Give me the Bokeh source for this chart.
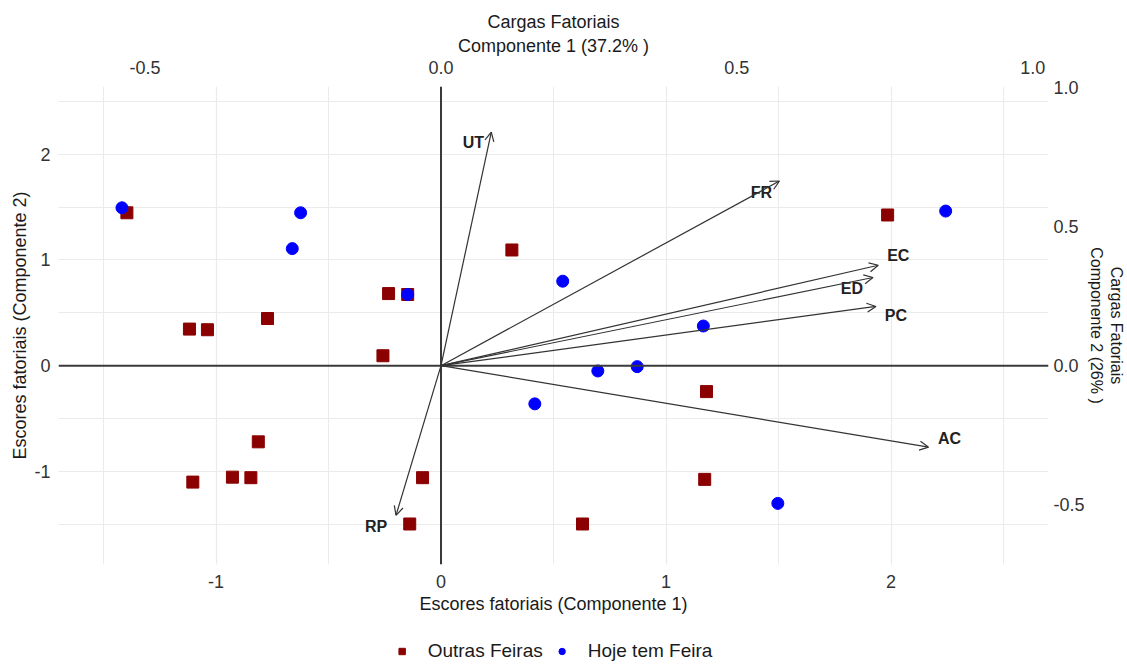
from bokeh.plotting import figure
from bokeh.layouts import column
from bokeh.models import (Range1d, LinearAxis, FixedTicker, NumeralTickFormatter, Span, Grid,
                          Arrow, OpenHead, ColumnDataSource, Legend, LegendItem)
from bokeh.embed import file_html
from bokeh.resources import INLINE
from bokeh.core.properties import value

# ---------------- data ----------------
outras_x = [-1.396, -1.118, -1.038, -0.771, -0.233, -0.148, -0.258, 0.315, -0.812,
            -1.103, -0.927, -0.845, -0.082, -0.139, 0.629, 1.180, 1.172, 1.985]
outras_y = [1.446, 0.346, 0.340, 0.446, 0.682, 0.673, 0.094, 1.094, -0.720,
            -1.101, -1.054, -1.059, -1.059, -1.497, -1.497, -0.245, -1.075, 1.425]

hoje_x = [-1.418, -0.624, -0.661, -0.148, 0.541, 1.166, 0.697, 0.872, 0.417, 2.243, 1.497]
hoje_y = [1.493, 1.446, 1.107, 0.673, 0.799, 0.375, -0.050, -0.009, -0.361, 1.462, -1.302]

var_names = ["UT", "FR", "EC", "ED", "PC", "AC", "RP"]
load_c1 = [0.085, 0.572, 0.739, 0.730, 0.735, 0.824, -0.076]
load_c2 = [0.840, 0.664, 0.361, 0.317, 0.213, -0.293, -0.538]

score_ticks = [-1, 0, 1, 2]
score_minor = [-1.5, -0.5, 0.5, 1.5, 2.5]
load_ticks = [-0.5, 0.0, 0.5, 1.0]

series_names = ["Outras Feiras", "Hoje tem Feira"]
x_title = "Escores fatoriais (Componente 1)"
y_title = "Escores fatoriais (Componente 2)"
top_title = "Cargas Fatoriais\nComponente 1 (37.2% )"
right_title = "Cargas Fatoriais\nComponente 2 (26% )"

# ---------------- layout / style ----------------
SCALE = 2.63          # scores per loading unit (secondary-axis ratio)
X_LIM = (-1.70, 2.70)
Y_LIM = (-1.88, 2.64)
label_dx = [-18, -18, 20, -21, 20, 21, -20]
label_dy = [10, 11, -10, 11, 9, -9, 11]
FONT = "Liberation Sans"
GRID = "#EBEBEB"
RED = "#8B0000"
BLUE = "#0000FF"

p = figure(width=1127, height=638,
           x_range=Range1d(*X_LIM), y_range=Range1d(*Y_LIM),
           x_axis_location=None, y_axis_location=None,
           output_backend="svg", toolbar_location=None,
           min_border_left=58, min_border_right=79,
           min_border_top=86, min_border_bottom=74)
p.outline_line_color = None
p.background_fill_color = "white"
p.extra_x_ranges = {"lx": Range1d(X_LIM[0] / SCALE, X_LIM[1] / SCALE)}
p.extra_y_ranges = {"ly": Range1d(Y_LIM[0] / SCALE, Y_LIM[1] / SCALE)}

score_ticker_x = FixedTicker(ticks=score_ticks, minor_ticks=score_minor)
score_ticker_y = FixedTicker(ticks=score_ticks, minor_ticks=score_minor)

bottom_axis = LinearAxis(axis_label=x_title, ticker=score_ticker_x,
                         formatter=NumeralTickFormatter(format="0"))
left_axis = LinearAxis(axis_label=y_title, ticker=score_ticker_y,
                       formatter=NumeralTickFormatter(format="0"))
top_axis = LinearAxis(x_range_name="lx", axis_label=top_title,
                      ticker=FixedTicker(ticks=load_ticks),
                      formatter=NumeralTickFormatter(format="0.0"))
right_axis = LinearAxis(y_range_name="ly", axis_label=right_title,
                        ticker=FixedTicker(ticks=load_ticks),
                        formatter=NumeralTickFormatter(format="0.0"))

for ax in [bottom_axis, left_axis, top_axis, right_axis]:
    ax.axis_line_color = None
    ax.major_tick_line_color = None
    ax.minor_tick_line_color = None
    ax.major_tick_out = 0
    ax.major_tick_in = 0
    ax.minor_tick_out = 0
    ax.minor_tick_in = 0
    ax.major_label_text_font = FONT
    ax.major_label_text_font_size = "18px"
    ax.major_label_text_color = "#333333"
    ax.axis_label_text_font = FONT
    ax.axis_label_text_font_size = "18px"
    ax.axis_label_text_font_style = "normal"
    ax.axis_label_text_color = "#1a1a1a"
    ax.axis_label_standoff = 1
bottom_axis.major_label_standoff = 10
bottom_axis.axis_label_standoff = 3
top_axis.major_label_standoff = 13
left_axis.major_label_standoff = 8
right_axis.major_label_standoff = 5
right_axis.axis_label_standoff = 0
right_axis.axis_label_text_font_size = "16px"
top_axis.axis_label_standoff = 2

p.add_layout(bottom_axis, "below")
p.add_layout(left_axis, "left")
p.add_layout(top_axis, "above")
p.add_layout(right_axis, "right")

for dim, tk in [(0, score_ticker_x), (1, score_ticker_y)]:
    p.add_layout(Grid(dimension=dim, ticker=tk, grid_line_color=GRID, grid_line_width=1.2,
                      minor_grid_line_color=GRID, minor_grid_line_width=1.0, level="underlay"))

p.add_layout(Span(location=0, dimension="height", line_color="#3a3a3a", line_width=2))
p.add_layout(Span(location=0, dimension="width", line_color="#3a3a3a", line_width=2))

p.scatter(outras_x, outras_y, marker="square", size=12, color=RED)
p.scatter(hoje_x, hoje_y, marker="circle", size=12, color=BLUE)

src = ColumnDataSource(dict(x0=[0] * len(var_names), y0=[0] * len(var_names),
                            x1=load_c1, y1=load_c2, name=var_names,
                            dx=label_dx, dy=label_dy))
p.add_layout(Arrow(end=OpenHead(size=9, line_color="#333333", line_width=1.2),
                   x_start="x0", y_start="y0", x_end="x1", y_end="y1", source=src,
                   x_range_name="lx", y_range_name="ly",
                   line_color="#333333", line_width=1.2))
p.text(x="x1", y="y1", text="name", source=src, x_range_name="lx", y_range_name="ly",
       x_offset="dx", y_offset="dy", text_align="center", text_baseline="middle",
       text_font=value(FONT), text_font_style="bold", text_font_size="16px",
       text_color="#222222")

# legend strip below the chart (key renderers hold one point outside the visible range)
lf = figure(width=1127, height=26, x_range=Range1d(0, 1), y_range=Range1d(0, 1),
            x_axis_location=None, y_axis_location=None,
            output_backend="svg", toolbar_location=None,
            min_border_left=0, min_border_right=0, min_border_top=0, min_border_bottom=0)
lf.outline_line_color = None
lf.xgrid.visible = False
lf.ygrid.visible = False
k_out = lf.scatter([-5], [-5], marker="square", size=12, color=RED)
k_hoje = lf.scatter([-5], [-5], marker="circle", size=12, color=BLUE)
legend = Legend(items=[LegendItem(label=series_names[0], renderers=[k_out]),
                       LegendItem(label=series_names[1], renderers=[k_hoje])],
                orientation="horizontal", location="center",
                label_text_font=FONT, label_text_font_size="19px",
                label_text_color="#1a1a1a", border_line_color=None,
                background_fill_alpha=0, glyph_width=16, glyph_height=16,
                label_standoff=18, spacing=11, padding=1, margin=0)
lf.add_layout(legend, "center")

open("out.html", "w").write(file_html(column(p, lf, spacing=0), INLINE))
